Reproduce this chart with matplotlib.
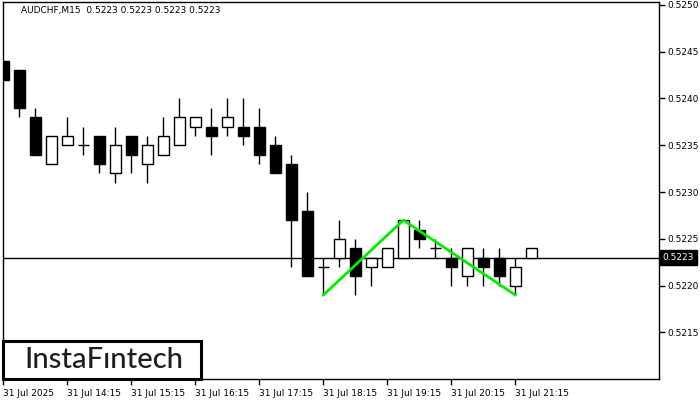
import matplotlib
matplotlib.use("Agg")
import matplotlib.pyplot as plt
from matplotlib.patches import Rectangle

# AUDCHF M15 candles, 31 Jul 13:15 .. 21:30
opens = [0.5244, 0.5243, 0.5238, 0.5233, 0.5235, 0.5235, 0.5236, 0.5232, 0.5236, 0.5233,
         0.5234, 0.5235, 0.5237, 0.5237, 0.5237, 0.5237, 0.5237, 0.5235, 0.5233, 0.5228,
         0.5222, 0.5223, 0.5224, 0.5222, 0.5222, 0.5223, 0.5226, 0.5224, 0.5223, 0.5221,
         0.5223, 0.5223, 0.5220, 0.5223]
closes = [0.5242, 0.5239, 0.5234, 0.5236, 0.5236, 0.5235, 0.5233, 0.5235, 0.5234, 0.5235,
          0.5236, 0.5238, 0.5238, 0.5236, 0.5238, 0.5236, 0.5234, 0.5232, 0.5227, 0.5221,
          0.5222, 0.5225, 0.5221, 0.5223, 0.5224, 0.5227, 0.5225, 0.5224, 0.5222, 0.5224,
          0.5222, 0.5221, 0.5222, 0.5224]
highs = [0.5244, 0.5243, 0.5239, 0.5236, 0.5238, 0.5237, 0.5236, 0.5237, 0.5236, 0.5236,
         0.5238, 0.5240, 0.5238, 0.5239, 0.5240, 0.5240, 0.5239, 0.5236, 0.5234, 0.5230,
         0.5223, 0.5227, 0.5225, 0.5223, 0.5224, 0.5227, 0.5227, 0.5225, 0.5224, 0.5224,
         0.5224, 0.5224, 0.5223, 0.5224]
lows = [0.5242, 0.5238, 0.5234, 0.5233, 0.5235, 0.5234, 0.5232, 0.5231, 0.5232, 0.5231,
        0.5234, 0.5235, 0.5236, 0.5234, 0.5236, 0.5235, 0.5233, 0.5232, 0.5222, 0.5221,
        0.5219, 0.5222, 0.5219, 0.5220, 0.5222, 0.5223, 0.5224, 0.5223, 0.5220, 0.5220,
        0.5220, 0.5220, 0.5219, 0.5223]

time_ticks = [0, 4, 8, 12, 16, 20, 24, 28, 32]
time_labels = ["31 Jul 2025", "31 Jul 14:15", "31 Jul 15:15", "31 Jul 16:15", "31 Jul 17:15",
               "31 Jul 18:15", "31 Jul 19:15", "31 Jul 20:15", "31 Jul 21:15"]
price_ticks = [0.5215, 0.5220, 0.5225, 0.5230, 0.5235, 0.5240, 0.5245, 0.5250]

# double bottom pattern
pattern_x = [20, 25, 32]
pattern_y = [0.5219, 0.5227, 0.5219]

last_price = 0.5223
title = "AUDCHF,M15  0.5223 0.5223 0.5223 0.5223"

fig = plt.figure(figsize=(7, 4), dpi=100)
ax = fig.add_axes([2.7/700, 1-379.3/400, (659.3-2.7)/700, (379.3-2)/400])

xs = list(range(len(opens)))

# wicks
ax.vlines(xs, lows, highs, color="black", linewidth=1, zorder=2)

# bodies
bottoms = [min(o, c) for o, c in zip(opens, closes)]
heights = [abs(c - o) for o, c in zip(opens, closes)]
faces = ["white" if c >= o else "black" for o, c in zip(opens, closes)]
ax.bar(xs, heights, bottom=bottoms, width=0.68, color=faces,
       edgecolor="black", linewidth=1, zorder=3)

ax.axhline(last_price, color="black", linewidth=1, zorder=1)

ax.plot(pattern_x, pattern_y, color="#00ee00", linewidth=2, zorder=4)

ax.set_xlim(-0.04, 41.0)
ax.set_ylim(0.52100, 0.52503)

ax.yaxis.tick_right()
ax.set_yticks(price_ticks)
ax.set_yticklabels(["%.4f" % p for p in price_ticks])
ax.set_xticks(time_ticks)
ax.set_xticklabels(time_labels, ha="left")
ax.tick_params(axis="both", direction="out", length=4, width=1, labelsize=6.5,
               colors="black", pad=2)
ax.tick_params(axis="x", pad=3)

for s in ax.spines.values():
    s.set_linewidth(1)

# current price label
ax.annotate("%.4f" % last_price, xy=(1.0, last_price), xycoords=("axes fraction", "data"),
            xytext=(2.5, 0), textcoords="offset points", va="center", ha="left",
            fontsize=6.5, color="white",
            bbox=dict(boxstyle="square,pad=0.3", fc="black", ec="black"))

ax.text(18/656.6, 1-9/377.3, title, transform=ax.transAxes, fontsize=6.5,
        va="center", ha="left", color="black")

# logo
ax.add_patch(Rectangle((0, 0), 198/656.6, 38/377.3, transform=ax.transAxes,
                       fill=True, facecolor="white", edgecolor="black",
                       linewidth=2.2, zorder=5, clip_on=False))
ax.text(101/656.6, 19/377.3, "InstaF\u0131ntech", transform=ax.transAxes,
        fontsize=21, family="Lato", weight="medium", color="#1e1e1e",
        ha="center", va="center", zorder=6)

fig.savefig("out.png", dpi=100)
